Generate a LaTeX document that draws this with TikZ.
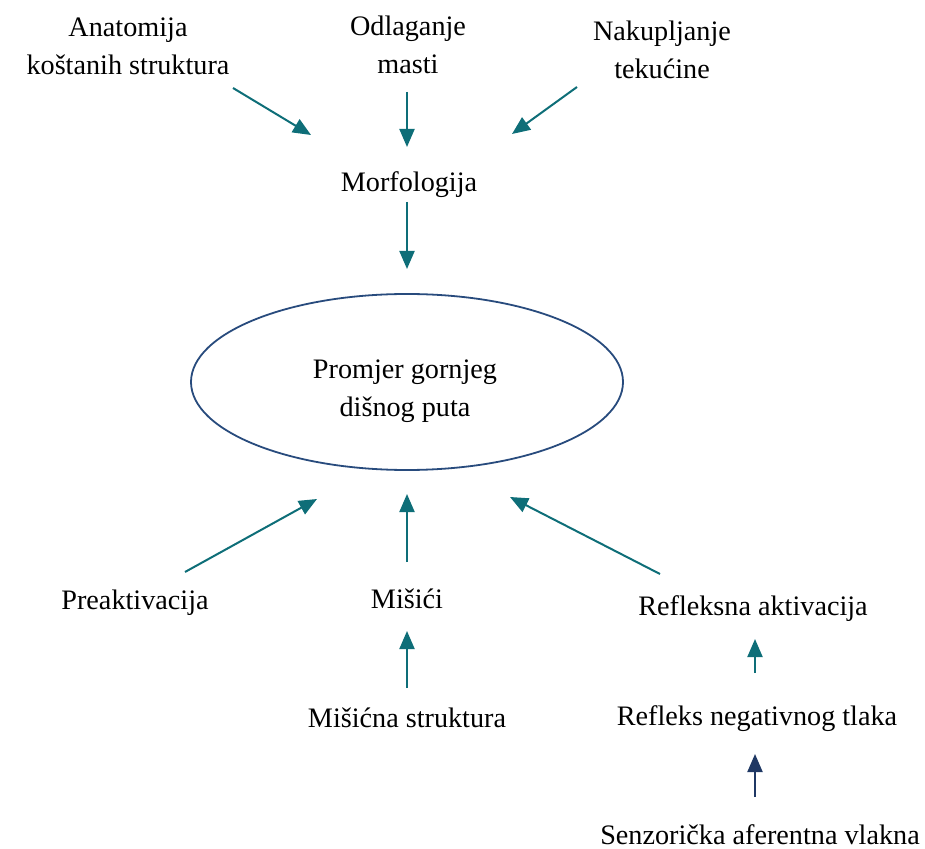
\documentclass[tikz,border=0pt]{standalone}
\usepackage{fontspec}
\setmainfont{Liberation Serif}
\usetikzlibrary{arrows.meta,shapes.geometric}
\definecolor{teal1}{RGB}{14,110,120}
\definecolor{navy1}{RGB}{31,56,100}
\definecolor{ellc}{RGB}{40,75,125}
\begin{document}
\begin{tikzpicture}[x=0.5pt,y=-0.5pt,
  lbl/.style={align=center,inner sep=0pt,font=\fontsize{14.1}{19}\selectfont},
  arr/.style={draw=teal1,line width=1pt,-{Triangle[length=9pt,width=7.5pt]}},
  arrn/.style={arr,draw=navy1}]
\useasboundingbox (0,0) rectangle (925,849);
\node[lbl] (anat) at (128,46) {Anatomija\\koštanih struktura};
\node[lbl] (odl) at (408,45) {Odlaganje\\masti};
\node[lbl] (nak) at (662,50) {Nakupljanje\\tekućine};
\node[lbl] (morf) at (409,185) {Morfologija};
\node[draw=ellc,line width=0.9pt,ellipse,minimum width=216pt,minimum height=88pt,inner sep=0pt] (ell) at (407,382) {};
\node[lbl] (prom) at (405,391) {Promjer gornjeg\\dišnog puta};
\node[lbl] (prea) at (135,603) {Preaktivacija};
\node[lbl] (mis) at (407,599) {Mišići};
\node[lbl] (refa) at (753,609) {Refleksna aktivacija};
\node[lbl] (miss) at (407,718) {Mišićna struktura};
\node[lbl] (refn) at (757,719) {Refleks negativnog tlaka};
\node[lbl] (senz) at (760,835) {Senzorička aferentna vlakna};
% arrow end points
\coordinate (a1s) at (233,88);  \coordinate (a1e) at (311,135);
\coordinate (a2s) at (407,92);  \coordinate (a2e) at (407,147);
\coordinate (a3s) at (577,87);  \coordinate (a3e) at (512,134);
\coordinate (a4s) at (407,202); \coordinate (a4e) at (407,269);
\coordinate (a5s) at (185,572); \coordinate (a5e) at (317,499);
\coordinate (a6s) at (407,562); \coordinate (a6e) at (407,494);
\coordinate (a7s) at (660,574); \coordinate (a7e) at (510,497);
\coordinate (a8s) at (407,688); \coordinate (a8e) at (407,631);
\coordinate (a9s) at (755,673); \coordinate (a9e) at (755,639);
\coordinate (a10s) at (755,797); \coordinate (a10e) at (755,754);
\draw[arr] (a1s) -- (a1e);
\draw[arr] (a2s) -- (a2e);
\draw[arr] (a3s) -- (a3e);
\draw[arr] (a4s) -- (a4e);
\draw[arr] (a5s) -- (a5e);
\draw[arr] (a6s) -- (a6e);
\draw[arr] (a7s) -- (a7e);
\draw[arr] (a8s) -- (a8e);
\draw[arr] (a9s) -- (a9e);
\draw[arrn] (a10s) -- (a10e);
\end{tikzpicture}
\end{document}
